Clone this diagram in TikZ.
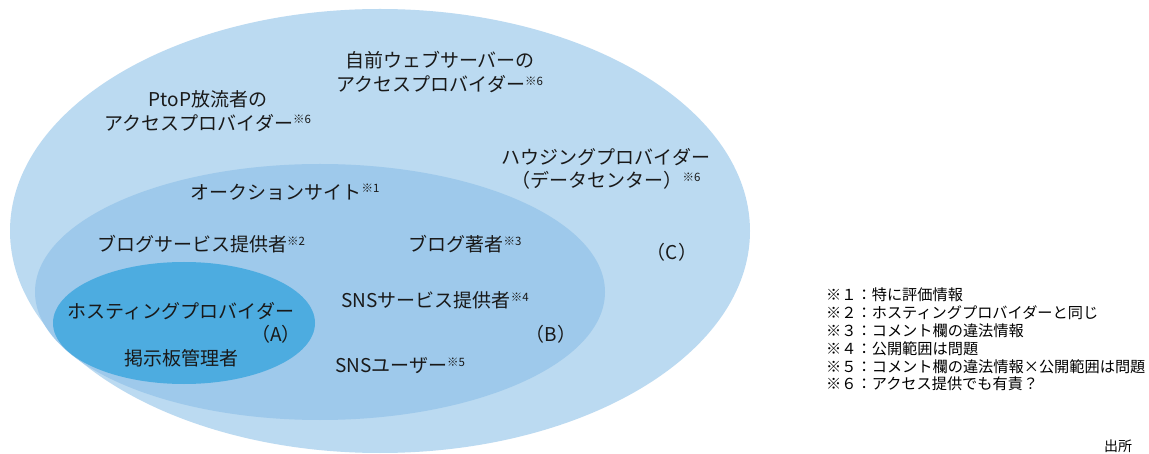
\documentclass[tikz,border=0pt]{standalone}
\usepackage{fontspec}
\setmainfont{Noto Sans CJK JP}
\definecolor{cOuter}{RGB}{187,218,241}
\definecolor{cMid}{RGB}{158,201,235}
\definecolor{cInner}{RGB}{77,172,224}
\newcommand\nt[1]{\raisebox{0.6ex}{\fontsize{11.5}{11.5}\selectfont ※#1}}
\tikzset{
  lbl/.style={inner sep=0pt, font=\fontsize{19}{23.5}\selectfont, align=center, text=black!90},
  leg/.style={inner sep=0pt, font=\fontsize{15.2}{17.8}\selectfont, align=left, anchor=north west},
}
\begin{document}
\begin{tikzpicture}[x=1pt,y=-1pt]
\useasboundingbox (0,0) rectangle (1149,454);
\fill[white] (0,0) rectangle (1149,454);
\fill[cOuter] (380,231) ellipse [x radius=370, y radius=222];
\fill[cMid] (320,292) ellipse [x radius=285, y radius=128];
\fill[cInner] (184,323) ellipse [x radius=131, y radius=61];
\node[lbl] (own) at (440,72) {自前ウェブサーバーの\\アクセスプロバイダー\nt{6}};
\node[lbl] (p2p) at (208,111) {PtoP放流者の\\アクセスプロバイダー\nt{6}};
\node[lbl] (house) at (606,169) {ハウジングプロバイダー\\（データセンター）\nt{6}};
\node[lbl] (auc) at (285,192) {オークションサイト\nt{1}};
\node[lbl] (blogsvc) at (201,244) {ブログサービス提供者\nt{2}};
\node[lbl] (blogauth) at (465,244) {ブログ著者\nt{3}};
\node[lbl] (cl) at (672,252) {（C）};
\node[lbl] (snssvc) at (435,300) {SNSサービス提供者\nt{4}};
\node[lbl] (host) at (181,311) {ホスティングプロバイダー};
\node[lbl] (al) at (276,334) {（A）};
\node[lbl] (bl) at (551,334) {（B）};
\node[lbl] (bbs) at (181,358) {掲示板管理者};
\node[lbl] (snsuser) at (400,366) {SNSユーザー\nt{5}};
\node[leg] (legend) at (826,288) {※１：特に評価情報\\※２：ホスティングプロバイダーと同じ\\※３：コメント欄の違法情報\\※４：公開範囲は問題\\※５：コメント欄の違法情報×公開範囲は問題\\※６：アクセス提供でも有責？};
\node[inner sep=0pt, font=\fontsize{14}{14}\selectfont] (src) at (1118,446) {出所};
\end{tikzpicture}
\end{document}
